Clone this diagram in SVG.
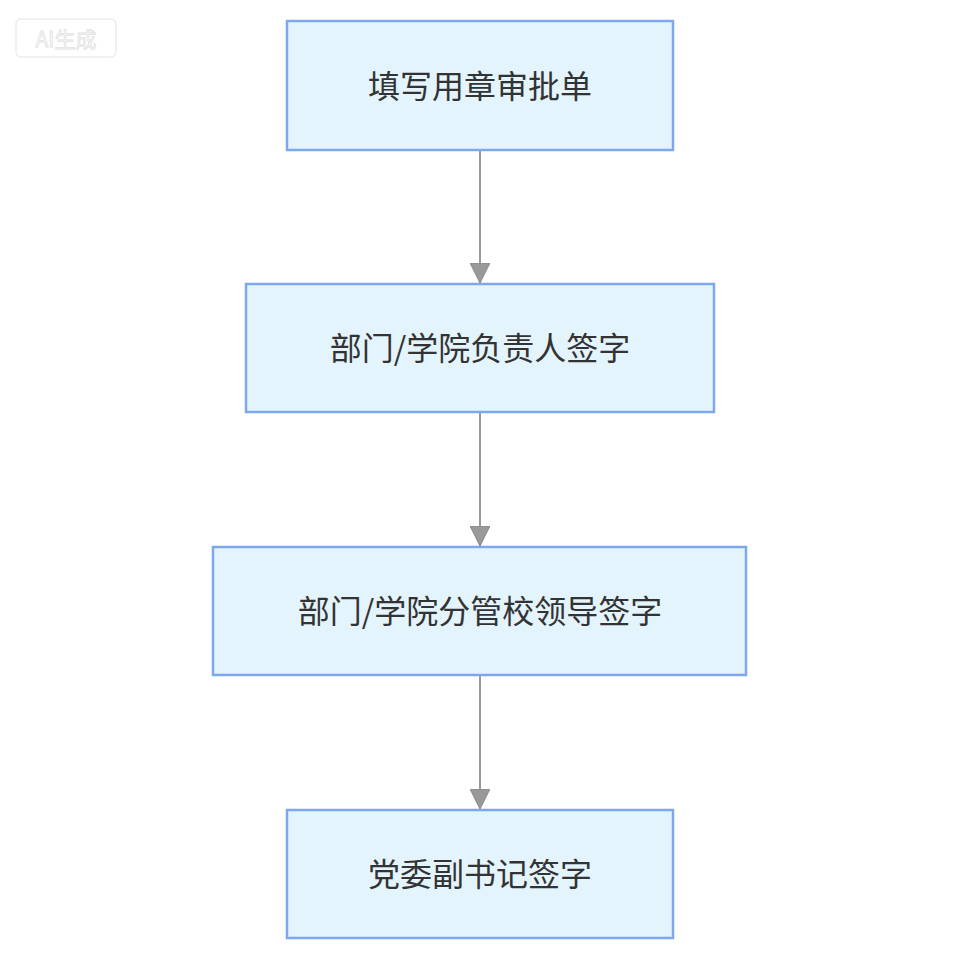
<svg xmlns="http://www.w3.org/2000/svg" width="960" height="960" viewBox="0 0 960 960">
<defs>
<style>
.box{fill:#e4f4fd;stroke:#7ea8ec;stroke-width:2.5}
.lbl{font-family:"Noto Sans CJK SC","Noto Sans",sans-serif;font-size:32px;fill:#333;text-anchor:middle;dominant-baseline:central}
.edge{stroke:#999;stroke-width:2;fill:none}
.wm{font-family:"Noto Sans CJK SC","Noto Sans",sans-serif;font-size:21px;fill:#fbfbfb;stroke:#e2e2e2;stroke-width:0.8;text-anchor:middle;dominant-baseline:central}
</style>
<marker id="arr" viewBox="0 0 20 20" refX="20" refY="10" markerWidth="20" markerHeight="20" markerUnits="userSpaceOnUse" orient="auto">
<path d="M0,0 L20,10 L0,20 Z" fill="#999" stroke="#888" stroke-width="1"/>
</marker>
</defs>
<rect width="960" height="960" fill="#fff"/>
<g id="watermark">
<rect x="16" y="19" width="100" height="38" rx="5" fill="#fff" stroke="#ececec" stroke-width="1.5"/>
<text class="wm" x="66" y="38">AI生成</text>
</g>
<g id="edges">
<line class="edge" x1="480" y1="151" x2="480" y2="283" marker-end="url(#arr)"/>
<line class="edge" x1="480" y1="413" x2="480" y2="546" marker-end="url(#arr)"/>
<line class="edge" x1="480" y1="676" x2="480" y2="809" marker-end="url(#arr)"/>
</g>
<g id="n1">
<rect class="box" x="287" y="21" width="386" height="129"/>
<text class="lbl" x="480" y="84">填写用章审批单</text>
</g>
<g id="n2">
<rect class="box" x="246" y="284" width="468" height="128"/>
<text class="lbl" x="480" y="346">部门/学院负责人签字</text>
</g>
<g id="n3">
<rect class="box" x="213" y="547" width="533" height="128"/>
<text class="lbl" x="480" y="609">部门/学院分管校领导签字</text>
</g>
<g id="n4">
<rect class="box" x="287" y="810" width="386" height="128"/>
<text class="lbl" x="480" y="872">党委副书记签字</text>
</g>
</svg>
